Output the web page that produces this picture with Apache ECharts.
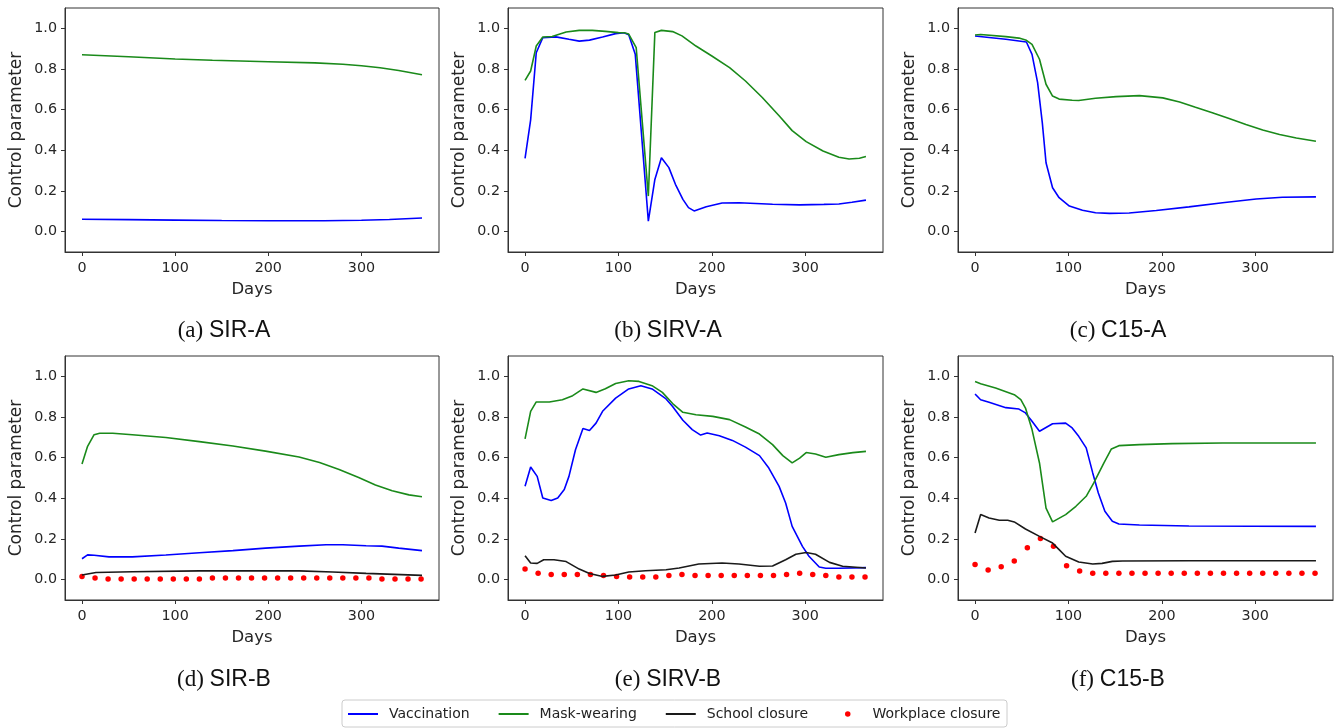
<!DOCTYPE html>
<html>
<head>
<meta charset="utf-8">
<script src="https://cdn.jsdelivr.net/npm/echarts@6/dist/echarts.min.js"></script>
<style>
html,body{margin:0;padding:0;background:#fff;}
#chart{width:1341px;height:728px;}
</style>
</head>
<body>
<div id="chart"></div>
<script>
// ---------- DATA ----------
const SERIES_NAMES = ['Vaccination', 'Mask-wearing', 'School closure', 'Workplace closure'];
const X_TICKS = [0, 100, 200, 300];
const Y_TICKS = [0, 0.2, 0.4, 0.6, 0.8, 1.0];
const CAPTIONS = [['(a) ', 'SIR-A'], ['(b) ', 'SIRV-A'], ['(c) ', 'C15-A'], ['(d) ', 'SIR-B'], ['(e) ', 'SIRV-B'], ['(f) ', 'C15-B']];

// days at which workplace-closure dots are plotted
const DOT_DAYS = [0, 14, 28, 42, 56, 70, 84, 98, 112, 126, 140, 154, 168, 182, 196, 210, 224, 238, 252, 266, 280, 294, 308, 322, 336, 350, 364];

// (a) SIR-A
const VAC_A = [[0,0.061],[50,0.059],[100,0.057],[150,0.055],[200,0.054],[260,0.054],[300,0.056],[330,0.060],[365,0.067]];
const MASK_A = [[0,0.870],[50,0.860],[100,0.849],[140,0.843],[200,0.836],[250,0.830],[280,0.823],[300,0.816],[320,0.806],[340,0.793],[365,0.772]];

// (b) SIRV-A
const VAC_B = [[0,0.36],[6,0.55],[12,0.88],[19,0.954],[33,0.958],[47,0.946],[58,0.937],[69,0.942],[83,0.957],[97,0.974],[106,0.978],[111,0.969],[118,0.872],[132,0.052],[139,0.257],[146,0.364],[154,0.315],[161,0.233],[169,0.159],[175,0.118],[181,0.102],[194,0.123],[211,0.141],[229,0.142],[265,0.135],[294,0.132],[320,0.134],[336,0.136],[350,0.145],[365,0.155]];
const MASK_B = [[0,0.744],[6,0.79],[12,0.913],[19,0.957],[29,0.96],[44,0.982],[58,0.99],[72,0.99],[86,0.985],[100,0.979],[106,0.978],[111,0.972],[119,0.905],[132,0.175],[139,0.98],[146,0.99],[158,0.984],[168,0.963],[183,0.913],[200,0.864],[219,0.807],[236,0.741],[254,0.66],[272,0.57],[286,0.497],[301,0.443],[319,0.397],[336,0.366],[347,0.357],[358,0.361],[365,0.37]];

// (c) C15-A
const VAC_C = [[0,0.962],[15,0.955],[33,0.946],[55,0.933],[61,0.872],[67,0.733],[72,0.536],[76,0.339],[83,0.216],[90,0.167],[101,0.126],[115,0.105],[129,0.093],[144,0.09],[165,0.092],[194,0.104],[229,0.122],[265,0.142],[301,0.161],[329,0.169],[365,0.171]];
const MASK_C = [[0,0.967],[6,0.97],[33,0.959],[47,0.952],[55,0.941],[61,0.921],[69,0.848],[76,0.725],[83,0.667],[90,0.652],[104,0.646],[111,0.645],[129,0.656],[151,0.664],[176,0.669],[201,0.658],[219,0.638],[236,0.612],[254,0.585],[272,0.556],[290,0.527],[308,0.5],[326,0.478],[344,0.461],[365,0.445]];

// (d) SIR-B
const VAC_D = [[0,0.103],[6,0.122],[13,0.12],[29,0.112],[54,0.112],[90,0.121],[126,0.132],[162,0.143],[197,0.155],[233,0.165],[262,0.172],[280,0.172],[305,0.167],[322,0.165],[340,0.155],[365,0.143]];
const MASK_D = [[0,0.569],[6,0.656],[13,0.713],[19,0.72],[33,0.72],[54,0.713],[90,0.699],[126,0.679],[162,0.657],[197,0.632],[233,0.603],[255,0.576],[276,0.542],[297,0.502],[315,0.466],[333,0.437],[351,0.417],[365,0.408]];
const SCHOOL_D = [[0,0.023],[15,0.035],[54,0.039],[126,0.043],[197,0.044],[233,0.043],[269,0.038],[305,0.031],[365,0.021]];
const WORK_D = [0.015,0.008,0.003,0.003,0.003,0.003,0.003,0.003,0.003,0.003,0.008,0.008,0.008,0.008,0.008,0.008,0.008,0.008,0.008,0.008,0.008,0.008,0.008,0.003,0.003,0.003,0.003];

// (e) SIRV-B
const VAC_E = [[0,0.459],[6,0.554],[13,0.508],[19,0.402],[28,0.389],[35,0.402],[42,0.443],[47,0.508],[54,0.639],[62,0.743],[69,0.734],[76,0.77],[83,0.828],[97,0.893],[111,0.938],[124,0.954],[136,0.938],[151,0.889],[158,0.852],[169,0.784],[179,0.738],[188,0.711],[195,0.721],[208,0.708],[222,0.685],[236,0.652],[251,0.61],[261,0.549],[272,0.459],[279,0.377],[286,0.262],[297,0.164],[304,0.115],[315,0.062],[322,0.056],[336,0.056],[365,0.059]];
const MASK_E = [[0,0.692],[6,0.828],[12,0.874],[26,0.874],[40,0.885],[51,0.905],[62,0.938],[76,0.921],[86,0.939],[97,0.965],[111,0.978],[122,0.975],[136,0.954],[147,0.921],[158,0.866],[169,0.823],[183,0.811],[201,0.803],[219,0.787],[236,0.751],[251,0.716],[265,0.664],[276,0.61],[286,0.574],[294,0.598],[301,0.625],[311,0.618],[322,0.602],[336,0.615],[351,0.625],[365,0.631]];
const SCHOOL_E = [[0,0.118],[6,0.082],[13,0.08],[20,0.098],[31,0.098],[44,0.089],[58,0.052],[69,0.03],[83,0.016],[97,0.023],[111,0.038],[129,0.044],[151,0.049],[165,0.057],[186,0.077],[211,0.082],[229,0.077],[251,0.066],[265,0.067],[279,0.098],[290,0.125],[301,0.134],[311,0.125],[326,0.085],[340,0.066],[365,0.057]];
const WORK_E = [0.052,0.031,0.025,0.025,0.025,0.025,0.02,0.015,0.013,0.013,0.013,0.02,0.025,0.02,0.02,0.02,0.02,0.02,0.02,0.02,0.025,0.031,0.025,0.02,0.013,0.013,0.013];

// (f) C15-B
const VAC_F = [[0,0.913],[6,0.885],[15,0.872],[33,0.846],[47,0.839],[54,0.82],[61,0.779],[69,0.73],[83,0.767],[97,0.77],[104,0.746],[111,0.705],[119,0.648],[126,0.525],[132,0.426],[139,0.336],[147,0.287],[154,0.274],[176,0.269],[229,0.264],[365,0.262]];
const MASK_F = [[0,0.975],[6,0.964],[22,0.943],[42,0.91],[49,0.885],[54,0.844],[61,0.738],[69,0.574],[76,0.352],[83,0.284],[97,0.32],[108,0.361],[119,0.41],[127,0.475],[138,0.574],[146,0.643],[154,0.659],[176,0.664],[211,0.669],[265,0.672],[365,0.672]];
const SCHOOL_F = [[0,0.23],[6,0.32],[15,0.303],[26,0.292],[35,0.292],[42,0.284],[54,0.249],[69,0.213],[83,0.18],[90,0.148],[97,0.115],[111,0.087],[126,0.077],[136,0.08],[147,0.09],[158,0.092],[229,0.093],[365,0.093]];
const WORK_F = [0.074,0.048,0.064,0.092,0.157,0.202,0.164,0.069,0.043,0.031,0.031,0.031,0.031,0.031,0.031,0.031,0.031,0.031,0.031,0.031,0.031,0.031,0.031,0.031,0.031,0.031,0.031];

// ---------- LAYOUT / STYLE ----------
const PANELS = [
  {vac: VAC_A, mask: MASK_A},
  {vac: VAC_B, mask: MASK_B},
  {vac: VAC_C, mask: MASK_C},
  {vac: VAC_D, mask: MASK_D, school: SCHOOL_D, work: WORK_D},
  {vac: VAC_E, mask: MASK_E, school: SCHOOL_E, work: WORK_E},
  {vac: VAC_F, mask: MASK_F, school: SCHOOL_F, work: WORK_F}
];
const GRID_LEFT = [65, 508, 958];
const GRID_WIDTH = [374, 375, 375];
const GRID_TOP = [8, 356];
const GRID_HEIGHT = 244;
const CAPTION_X = [224, 668, 1118];
const CAPTION_Y = [331, 680];

const COLORS = {vac: '#0000ff', mask: '#1a8a1a', school: '#1a1a1a', work: '#ff0000'};
const FONT = 'DejaVu Sans';
const TEXT_COLOR = '#262626';
const AXIS_COLOR = '#333333';

const grids = [], xAxes = [], yAxes = [], series = [], graphics = [];
PANELS.forEach((p, i) => {
  const col = i % 3, row = Math.floor(i / 3);
  grids.push({
    left: GRID_LEFT[col], top: GRID_TOP[row], width: GRID_WIDTH[col], height: GRID_HEIGHT,
    show: true, borderColor: AXIS_COLOR, borderWidth: 1, backgroundColor: 'transparent'
  });
  xAxes.push({
    type: 'value', gridIndex: i, min: -18.25, max: 383.25,
    name: 'Days', nameLocation: 'middle', nameGap: 29,
    nameTextStyle: {fontFamily: FONT, fontSize: 16.5, color: TEXT_COLOR},
    axisLine: {show: true, onZero: false, lineStyle: {color: AXIS_COLOR, width: 1}},
    axisTick: {show: true, length: 4, customValues: X_TICKS, lineStyle: {color: AXIS_COLOR}},
    axisLabel: {customValues: X_TICKS, fontFamily: FONT, fontSize: 14.3, color: TEXT_COLOR, margin: 9},
    splitLine: {show: false}
  });
  yAxes.push({
    type: 'value', gridIndex: i, min: -0.1, max: 1.1,
    name: 'Control parameter', nameLocation: 'middle', nameGap: 40,
    nameTextStyle: {fontFamily: FONT, fontSize: 17, color: TEXT_COLOR},
    axisLine: {show: true, onZero: false, lineStyle: {color: AXIS_COLOR, width: 1}},
    axisTick: {show: true, length: 4, customValues: Y_TICKS, lineStyle: {color: AXIS_COLOR}},
    axisLabel: {customValues: Y_TICKS, fontFamily: FONT, fontSize: 14.3, color: TEXT_COLOR, margin: 8,
      formatter: v => Number(v).toFixed(1)},
    splitLine: {show: false}
  });
  const lineSeries = (name, data, color) => ({
    type: 'line', name, data, xAxisIndex: i, yAxisIndex: i,
    symbol: 'none', showSymbol: false, silent: true, animation: false,
    lineStyle: {color, width: 1.6}, itemStyle: {color}
  });
  series.push(lineSeries(SERIES_NAMES[0], p.vac, COLORS.vac));
  series.push(lineSeries(SERIES_NAMES[1], p.mask, COLORS.mask));
  if (p.school) series.push(lineSeries(SERIES_NAMES[2], p.school, COLORS.school));
  if (p.work) series.push({
    type: 'scatter', name: SERIES_NAMES[3], xAxisIndex: i, yAxisIndex: i,
    data: DOT_DAYS.map((d, k) => [d, p.work[k]]),
    symbol: 'circle', symbolSize: 5.5, silent: true, animation: false,
    itemStyle: {color: COLORS.work, opacity: 1}
  });
  graphics.push({
    type: 'text', x: CAPTION_X[col], y: CAPTION_Y[row],
    style: {
      text: '{a|' + CAPTIONS[i][0] + '}{b|' + CAPTIONS[i][1] + '}',
      align: 'center', verticalAlign: 'middle',
      rich: {
        a: {fontFamily: 'Liberation Serif', fontSize: 23, fill: '#111'},
        b: {fontFamily: 'Liberation Sans', fontSize: 23, fill: '#111'}
      }
    }
  });
});

// legend frame
graphics.push({
  type: 'rect', z: -1, silent: true,
  shape: {x: 342, y: 700, width: 665, height: 27, r: 3},
  style: {fill: '#ffffff', stroke: '#cccccc', lineWidth: 1}
});

const LEGEND_TEXT = {fontFamily: FONT, fontSize: 14, color: '#222', padding: [0, 0, 0, 6]};

const chart = echarts.init(document.getElementById('chart'), null, {renderer: 'canvas'});
chart.setOption({
  animation: false,
  backgroundColor: '#ffffff',
  grid: grids, xAxis: xAxes, yAxis: yAxes, series,
  legend: [
    {
      data: SERIES_NAMES.slice(0, 3).map(name => ({name, itemStyle: {opacity: 0}})),
      left: 347, top: 707, padding: 0,
      itemWidth: 30, itemHeight: 5, itemGap: 28,
      textStyle: LEGEND_TEXT, selectedMode: false
    },
    {
      data: [{name: SERIES_NAMES[3], icon: 'circle'}],
      left: 845, top: 707, padding: 0,
      itemWidth: 5.5, itemHeight: 5.5,
      textStyle: {fontFamily: FONT, fontSize: 14, color: '#222', padding: [0, 0, 0, 17]},
      selectedMode: false
    }
  ],
  graphic: graphics
});
</script>
</body>
</html>
